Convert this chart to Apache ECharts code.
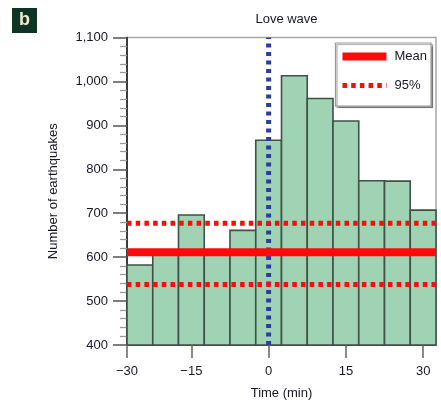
<!DOCTYPE html>
<html>
<head>
<meta charset="utf-8">
<script src="https://cdn.jsdelivr.net/npm/echarts@6/dist/echarts.min.js"></script>
<style>
  html, body { margin: 0; padding: 0; background: #fff; }
  #chart { width: 441px; height: 409px; }
</style>
</head>
<body>
<div id="chart"></div>
<script>
// Earthquake counts in 5-minute bins around the Love-wave arrival (t = 0)
const binCenters = [-25, -20, -15, -10, -5, 0, 5, 10, 15, 20, 25, 30];
const binWidth = 5;
const counts = [582, 607, 696, 612, 661, 866, 1013, 961, 910, 774, 773, 707];

// Background statistics
const meanCount = 611;
const upper95 = 677;
const lower95 = 538;
const arrivalTime = 0;

// Axes
const yMin = 400, yMax = 1100, yStep = 100;
const xMin = -27.5, xMax = 32.5;
const xTickValues = [xMin, -15, 0, 15, 30];
const xTickLabels = ['\u221230', '\u221215', '0', '15', '30'];

const FONT = '"Liberation Sans", Arial, sans-serif';
const TEXT = '#181826';
const RED = '#ff0a0a';
const dotted95 = { color: RED, width: 5, type: [4.5, 4.2], cap: 'butt' };
const meanStyle = { color: RED, width: 8 };
const hiddenSymbol = { color: 'rgba(0,0,0,0)', borderWidth: 0, opacity: 0 };

const chart = echarts.init(document.getElementById('chart'), null, { renderer: 'canvas' });

chart.setOption({
  animation: false,
  backgroundColor: '#ffffff',
  textStyle: { fontFamily: FONT },
  title: {
    text: 'Love wave',
    left: 281.5,
    textAlign: 'center',
    top: 8,
    textStyle: { fontFamily: FONT, fontSize: 13, fontWeight: 'normal', color: TEXT }
  },
  graphic: [
    {
      type: 'group', left: 12, top: 8,
      children: [
        { type: 'rect', shape: { x: 0, y: 0, width: 25, height: 25 }, style: { fill: '#0e3524' } },
        { type: 'text', x: 12.5, y: 12.5, style: { text: 'b', fill: '#f2ead0', font: 'bold 18px ' + FONT, align: 'center', verticalAlign: 'middle' } }
      ]
    }
  ],
  grid: {
    left: 127, right: 5, top: 37.5, bottom: 64,
    show: true, borderColor: '#a8a8a8', borderWidth: 1.5, backgroundColor: 'transparent'
  },
  legend: {
    right: 10, top: 43,
    orient: 'vertical',
    backgroundColor: '#ffffff',
    borderColor: '#9a9a9a', borderWidth: 1.2,
    shadowColor: 'rgba(0,0,0,0.35)', shadowOffsetX: 1.5, shadowOffsetY: 1.5, shadowBlur: 1,
    padding: [7, 4, 14, 3],
    itemWidth: 44, itemHeight: 14, itemGap: 16,
    textStyle: { fontFamily: FONT, fontSize: 13, color: TEXT, padding: [0, 0, 0, 3] },
    data: [
      { name: 'Mean', itemStyle: hiddenSymbol, lineStyle: meanStyle },
      { name: '95%', itemStyle: hiddenSymbol, lineStyle: dotted95 }
    ]
  },
  xAxis: {
    type: 'value', min: xMin, max: xMax,
    name: 'Time (min)', nameLocation: 'middle', nameGap: 42,
    nameTextStyle: { fontFamily: FONT, fontSize: 13, color: TEXT },
    axisLine: { show: true, onZero: false, lineStyle: { color: '#555', width: 1.2 } },
    axisTick: { show: true, customValues: xTickValues, length: 13, lineStyle: { color: '#8a8a8a', width: 2 } },
    axisLabel: {
      customValues: xTickValues, margin: 20,
      fontFamily: FONT, fontSize: 13, color: TEXT,
      formatter: v => {
        const i = xTickValues.findIndex(t => Math.abs(t - v) < 1e-6);
        return i >= 0 ? xTickLabels[i] : '';
      }
    },
    splitLine: { show: false }
  },
  yAxis: {
    type: 'value', min: yMin, max: yMax, interval: yStep,
    name: 'Number of earthquakes', nameLocation: 'middle', nameGap: 67, nameRotate: 90,
    nameTextStyle: { fontFamily: FONT, fontSize: 13, color: TEXT },
    axisLine: { show: true, onZero: false, lineStyle: { color: '#111', width: 1.5 } },
    axisTick: { show: true, length: 14, lineStyle: { color: '#555', width: 1.5 } },
    minorTick: { show: true, splitNumber: 5, length: 7, lineStyle: { color: '#999', width: 1.3 } },
    axisLabel: {
      margin: 19, fontFamily: FONT, fontSize: 13, color: TEXT,
      formatter: v => v.toLocaleString('en-US')
    },
    splitLine: { show: false }
  },
  series: [
    {
      name: 'counts',
      type: 'custom',
      data: binCenters.map((c, i) => [c, counts[i]]),
      encode: { x: 0, y: 1 },
      renderItem: (params, api) => {
        const c = api.value(0), v = api.value(1);
        const topLeft = api.coord([c - binWidth / 2, v]);
        const botRight = api.coord([c + binWidth / 2, yMin]);
        return {
          type: 'rect',
          shape: { x: topLeft[0], y: topLeft[1], width: botRight[0] - topLeft[0], height: botRight[1] - topLeft[1] },
          style: { fill: '#9fd3b4', stroke: '#3e5246', lineWidth: 1.6 }
        };
      },
      z: 2
    },
    {
      name: 'arrival',
      type: 'line',
      data: [[arrivalTime, yMin], [arrivalTime, yMax]],
      symbol: 'none',
      lineStyle: { color: '#2b3d9e', width: 5, type: [4, 4.5], cap: 'butt' },
      z: 3
    },
    {
      name: '95%',
      type: 'line',
      data: [[xMin, upper95], [xMax, upper95]],
      symbol: 'none',
      color: RED,
      lineStyle: dotted95,
      z: 4
    },
    {
      name: '95%',
      type: 'line',
      data: [[xMin, lower95], [xMax, lower95]],
      symbol: 'none',
      color: RED,
      lineStyle: dotted95,
      z: 4
    },
    {
      name: 'Mean',
      type: 'line',
      data: [[xMin, meanCount], [xMax, meanCount]],
      symbol: 'none',
      color: RED,
      lineStyle: meanStyle,
      z: 5
    }
  ]
});
</script>
</body>
</html>
